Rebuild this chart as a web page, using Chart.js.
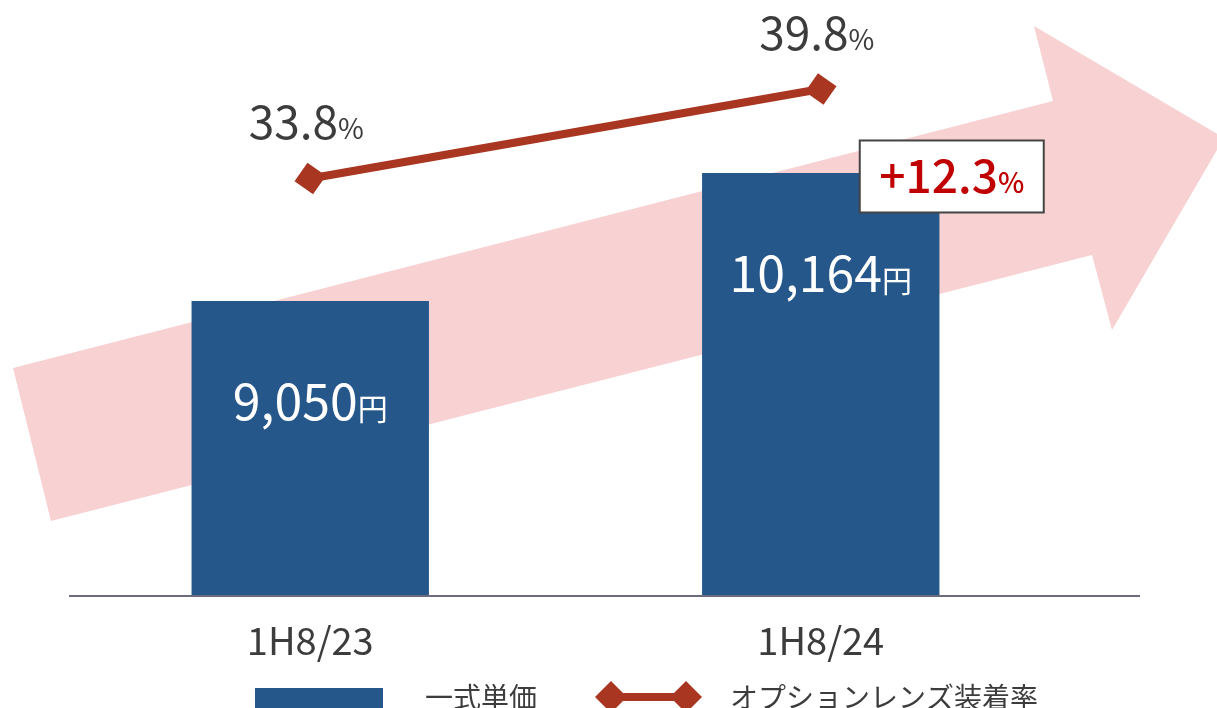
<!DOCTYPE html>
<html>
<head>
<meta charset="utf-8">
<script src="https://cdn.jsdelivr.net/npm/chart.js@4"></script>
<style>
html, body { margin: 0; padding: 0; background: #fff; }
#wrap { width: 1217px; height: 708px; }
</style>
</head>
<body>
<div id="wrap"><canvas id="chart"></canvas></div>
<script>
const categories = ['1H8/23', '1H8/24'];
const unitPrice = [9050, 10164];
const lensRate = [33.8, 39.8];
const seriesNames = ['一式単価', 'オプションレンズ装着率'];

const FONT = '"Noto Sans CJK JP", "Noto Sans", sans-serif';
const BLUE = '#26578a';
const RED = '#a93620';
const TEXT = '#3c3c3c';
const PINK = '#f8d1d3';

// number + smaller unit, centred on x
function drawValue(ctx, x, y, main, unit, mainSize, unitSize, color, weight) {
  ctx.save();
  ctx.fillStyle = color;
  ctx.textBaseline = 'alphabetic';
  ctx.textAlign = 'left';
  ctx.font = weight + ' ' + mainSize + 'px ' + FONT;
  const w1 = ctx.measureText(main).width;
  ctx.font = weight + ' ' + unitSize + 'px ' + FONT;
  const w2 = ctx.measureText(unit).width;
  const left = x - (w1 + w2) / 2;
  ctx.font = weight + ' ' + mainSize + 'px ' + FONT;
  ctx.fillText(main, left, y);
  ctx.font = weight + ' ' + unitSize + 'px ' + FONT;
  ctx.fillText(unit, left + w1, y);
  ctx.restore();
}

function diamond(ctx, x, y, r, rot) {
  ctx.save();
  ctx.translate(x, y);
  ctx.rotate(rot || 0);
  ctx.beginPath();
  ctx.moveTo(0, -r);
  ctx.lineTo(r, 0);
  ctx.lineTo(0, r);
  ctx.lineTo(-r, 0);
  ctx.closePath();
  ctx.fill();
  ctx.restore();
}

// background arrow
const arrowPlugin = {
  id: 'arrow',
  beforeDatasetsDraw(chart) {
    const ctx = chart.ctx;
    ctx.save();
    ctx.fillStyle = PINK;
    ctx.beginPath();
    ctx.moveTo(13, 368);
    ctx.lineTo(1053, 101);
    ctx.lineTo(1034, 26);
    ctx.lineTo(1224, 138);
    ctx.lineTo(1112, 330);
    ctx.lineTo(1092, 255);
    ctx.lineTo(51, 521);
    ctx.closePath();
    ctx.fill();
    ctx.restore();
  }
};

const labelPlugin = {
  id: 'labels',
  afterDatasetsDraw(chart) {
    const ctx = chart.ctx;
    const area = chart.chartArea;

    // base line
    ctx.save();
    ctx.strokeStyle = '#6c6c7e';
    ctx.lineWidth = 2;
    ctx.beginPath();
    ctx.moveTo(69, area.bottom);
    ctx.lineTo(1140, area.bottom);
    ctx.stroke();
    ctx.restore();

    const lineMeta = chart.getDatasetMeta(0);
    const barMeta = chart.getDatasetMeta(1);

    lineMeta.data.forEach((pt, i) => {
      drawValue(ctx, pt.x - 4, pt.y - 39, lensRate[i].toFixed(1), '%', 46, 28, TEXT, 400);
    });
    barMeta.data.forEach((bar, i) => {
      drawValue(ctx, bar.x, bar.y + 119, unitPrice[i].toLocaleString('en-US'), '円', 50, 30, '#ffffff', 400);
    });

    // growth box
    const last = barMeta.data[barMeta.data.length - 1];
    const growth = (unitPrice[1] / unitPrice[0] - 1) * 100;
    const bx = last.x + 131, by = last.y + 3.5;
    ctx.save();
    ctx.fillStyle = '#ffffff';
    ctx.fillRect(bx - 92, by - 36, 184, 72);
    ctx.strokeStyle = '#444444';
    ctx.lineWidth = 2;
    ctx.strokeRect(bx - 92, by - 36, 184, 72);
    ctx.restore();
    drawValue(ctx, bx, by + 17, '+' + growth.toFixed(1), '%', 46, 28, '#c00000', 500);
  },
  afterDraw(chart) {
    const ctx = chart.ctx;
    const ds = chart.data.datasets;
    ctx.save();
    ctx.fillStyle = ds[1].backgroundColor;
    ctx.fillRect(255, 688, 128, 30);

    ctx.strokeStyle = ds[0].borderColor;
    ctx.fillStyle = ds[0].borderColor;
    ctx.lineWidth = 8;
    ctx.beginPath();
    ctx.moveTo(611, 697);
    ctx.lineTo(686, 697);
    ctx.stroke();
    diamond(ctx, 611, 697, 16);
    diamond(ctx, 686, 697, 16);

    ctx.fillStyle = TEXT;
    ctx.font = '28px ' + FONT;
    ctx.textBaseline = 'middle';
    ctx.textAlign = 'left';
    ctx.fillText(ds[1].label, 425, 697);
    ctx.fillText(ds[0].label, 730, 697);
    ctx.restore();
  }
};

const ctx = document.getElementById('chart').getContext('2d');
const chart = new Chart(ctx, {
  data: {
    labels: categories,
    datasets: [{
      type: 'line',
      label: seriesNames[1],
      data: lensRate,
      yAxisID: 'y1',
      order: 0,
      borderColor: RED,
      backgroundColor: RED,
      borderWidth: 8,
      tension: 0,
      pointStyle: 'rectRot',
      pointRadius: 16,
      pointRotation: -10,
      pointBackgroundColor: RED,
      pointBorderWidth: 0
    }, {
      type: 'bar',
      label: seriesNames[0],
      data: unitPrice,
      yAxisID: 'y',
      order: 1,
      backgroundColor: BLUE,
      barPercentage: 0.465,
      categoryPercentage: 1
    }]
  },
  options: {
    responsive: true,
    maintainAspectRatio: false,
    animation: false,
    layout: { padding: { left: 55, right: 141, top: 0, bottom: 0 } },
    plugins: {
      legend: { display: false },
      tooltip: { enabled: false }
    },
    scales: {
      x: {
        grid: { display: false },
        border: { display: false },
        ticks: {
          color: TEXT,
          padding: 14,
          font: { family: FONT, size: 38, weight: 400 }
        },
        afterFit(scale) { scale.height = 112; }
      },
      y: { display: false, min: 6483, max: 11530 },
      y1: { display: false, min: 5.81, max: 44.69 }
    }
  },
  plugins: [arrowPlugin, labelPlugin]
});
</script>
</body>
</html>
